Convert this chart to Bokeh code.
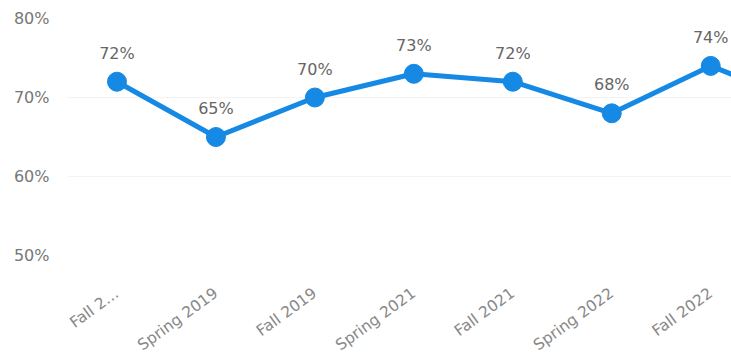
import math
from bokeh.plotting import figure
from bokeh.models import Range1d, FixedTicker, ColumnDataSource, LabelSet
from bokeh.core.properties import value
from bokeh.embed import file_html
from bokeh.resources import INLINE

terms = ["Fall 2…", "Spring 2019", "Fall 2019", "Spring 2021", "Fall 2021",
         "Spring 2022", "Fall 2022", "Spring 2023"]
values = [72, 65, 70, 73, 72, 68, 74, 69]
y_ticks = [50, 60, 70, 80]

FONT = "DejaVu Sans"
BLUE = "#1589e3"

X_END = 6.21  # visible part of the x axis (the last term lies beyond the window)

xs = list(range(len(terms)))
src = ColumnDataSource(dict(x=xs, y=values))
vis = [i for i in xs if i <= X_END]
lab_src = ColumnDataSource(dict(x=vis, y=[values[i] for i in vis],
                                lab=[f"{values[i]}%" for i in vis]))

p = figure(width=731, height=364, output_backend="svg", toolbar_location=None,
           x_range=Range1d(-0.5, X_END), y_range=Range1d(50, 80),
           min_border_left=67, min_border_right=0, min_border_top=18,
           min_border_bottom=10)
p.outline_line_color = None
p.background_fill_color = "white"

p.line("x", "y", source=src, line_color=BLUE, line_width=5)
p.scatter("x", "y", source=src, size=19, fill_color=BLUE, line_color=BLUE)

labels = LabelSet(x="x", y="y", text="lab", source=lab_src, y_offset=19,
                  text_align="center", text_baseline="bottom",
                  text_font=value(FONT), text_font_size="16px", text_color="#666666")
p.add_layout(labels)

# y axis
p.yaxis.ticker = FixedTicker(ticks=y_ticks)
p.yaxis.major_label_overrides = {t: f"{t}%" for t in y_ticks}
p.yaxis.axis_line_color = None
p.yaxis.major_tick_line_color = None
p.yaxis.minor_tick_line_color = None
p.yaxis.major_label_standoff = 12
p.yaxis.major_label_text_font = FONT
p.yaxis.major_label_text_font_size = "16px"
p.yaxis.major_label_text_color = "#777777"

# x axis
p.xaxis.ticker = FixedTicker(ticks=vis)
p.xaxis.major_label_overrides = {i: terms[i] for i in vis}
p.xaxis.major_label_orientation = math.radians(36)
p.xaxis.axis_line_color = None
p.xaxis.major_tick_line_color = None
p.xaxis.minor_tick_line_color = None
p.xaxis.major_label_standoff = 30
p.xaxis.major_label_text_font = FONT
p.xaxis.major_label_text_font_size = "15.5px"
p.xaxis.major_label_text_color = "#888888"

p.xgrid.grid_line_color = None
p.ygrid.ticker = FixedTicker(ticks=y_ticks)
p.ygrid.grid_line_color = "#f3f3f3"

open("out.html", "w").write(file_html(p, INLINE))
